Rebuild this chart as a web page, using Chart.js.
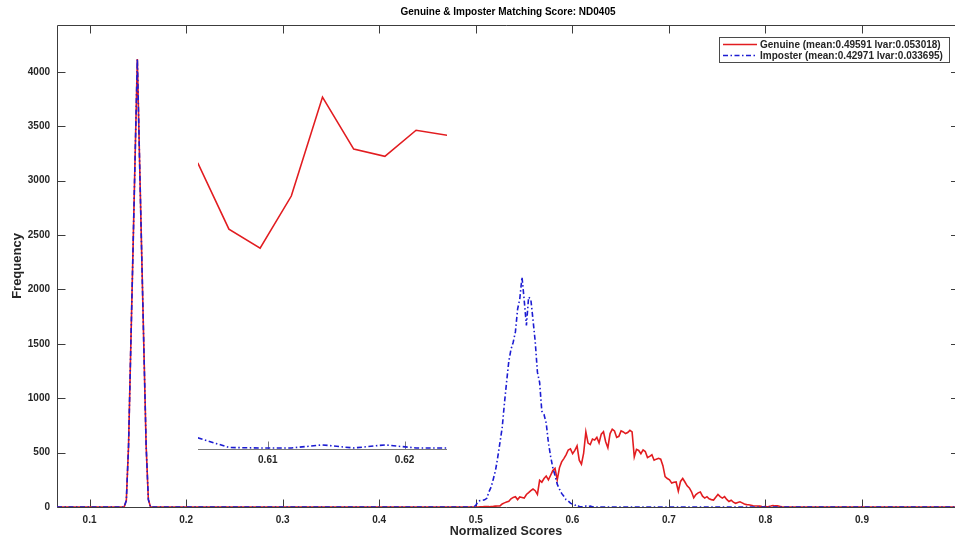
<!DOCTYPE html>
<html>
<head>
<meta charset="utf-8">
<script src="https://cdn.jsdelivr.net/npm/chart.js@4.4.1/dist/chart.umd.min.js"></script>
<style>
  html, body { margin: 0; padding: 0; background: #fff; }
  #wrap { position: relative; width: 955px; height: 542px; overflow: hidden; }
  #main { position: absolute; left: 0; top: 0; }
  #inset { position: absolute; left: 198px; top: 80px; }
</style>
</head>
<body>
<div id="wrap">
  <canvas id="main" width="955" height="542"></canvas>
  <canvas id="inset" width="251" height="395"></canvas>
</div>
<script>
// --- Data ---
const titleText = 'Genuine & Imposter Matching Score: ND0405';
const genuineLabel = 'Genuine (mean:0.49591 lvar:0.053018)';
const imposterLabel = 'Imposter (mean:0.42971 lvar:0.033695)';

const xMin = 0.0663;
const xMax = 0.9963;
const yMax = 4432;
const xTicks = [0.1, 0.2, 0.3, 0.4, 0.5, 0.6, 0.7, 0.8, 0.9];
const yTicks = [0, 500, 1000, 1500, 2000, 2500, 3000, 3500, 4000];

// zoomed inset
const insetMin = 0.6049;
const insetMax = 0.6231;
const insetYMax = 700;
const insetTicks = [0.61, 0.62];

const binWidth = 0.00228;

// narrow peak around 0.15 (both curves)
const spikeStart = 0.13582;
const genuineSpike = [0, 60, 560, 1450, 2330, 3230, 4120, 3200, 2310, 1430, 560, 70, 0];
const imposterSpike = [0, 60, 560, 1450, 2330, 3230, 4120, 3200, 2310, 1430, 560, 70, 0];

// main histograms, bins from histStart
const histStart = 0.49772;
const genuineCounts = [
    0,
    0, 0, 2, 2, 3, 3, 3, 5, 6, 8,
    9, 10, 28, 38, 45, 52, 75, 88, 95, 68,
    92, 88, 82, 115, 132, 150, 165, 150, 115, 245,
    228, 262, 285, 250, 292, 335, 355, 250, 360, 415,
    445, 480, 524, 535, 490, 520, 561, 431, 394, 496,
    690, 588, 574, 625, 615, 640, 590, 670, 692, 600,
    545, 675, 715, 700, 640, 650, 700, 690, 675, 685,
    705, 690, 460, 530, 520, 490, 525, 510, 455, 465,
    480, 430, 440, 448, 440, 380, 280, 262, 250, 220,
    228, 230, 145, 235, 262, 230, 195, 175, 140, 85,
    115, 130, 138, 100, 82, 95, 75, 68, 64, 90,
    115, 95, 82, 95, 70, 50, 62, 45, 34, 42,
    48, 38, 28, 22, 20, 16, 12, 9, 9, 8,
    5, 3, 3, 5, 9, 14, 10, 12, 6, 2, 0
];
const imposterCounts = [
    0,
    15, 50, 60, 62, 66, 80, 140, 185, 260, 340,
    460, 595, 730, 950, 1150, 1340, 1450, 1515, 1610, 1820,
    1915, 2115, 1900, 1670, 1930, 1910, 1720, 1520, 1240, 1145,
    880, 850, 770, 590, 465, 360, 290, 210, 165, 125,
    100, 68, 55, 35, 25, 16, 22, 3, 2, 2,
    8, 2, 8, 2, 2, 0
];

// --- Styles ---
const red = 'rgb(226, 28, 32)';
const blue = 'rgb(28, 28, 210)';
const blueDash = [5, 2.5, 1.5, 2.5];
const fontFamily = "'Liberation Sans', Arial, sans-serif";
const textColor = '#262626';
const axisColor = '#3c3c3c';

function toPoints(start, counts) {
    return counts.map((c, i) => ({ x: start + i * binWidth, y: c }));
}

const genuinePts = [{ x: xMin, y: 0 }, ...toPoints(spikeStart, genuineSpike), ...toPoints(histStart, genuineCounts), { x: xMax, y: 0 }];
const imposterPts = [{ x: xMin, y: 0 }, ...toPoints(spikeStart, imposterSpike), ...toPoints(histStart, imposterCounts), { x: xMax, y: 0 }];

function makeDatasets() {
    return [
        { label: genuineLabel, data: genuinePts.slice(), borderColor: red, borderWidth: 1.6, order: 2 },
        { label: imposterLabel, data: imposterPts.slice(), borderColor: blue, borderWidth: 1.6, borderDash: blueDash, order: 1 }
    ];
}

// box with inward ticks on all sides, title + legend
const boxPlugin = {
    id: 'matlabBox',
    beforeDatasetsDraw(chart) {
        const { ctx, chartArea: a, scales: { x, y } } = chart;
        const top = Math.round(a.top) + 0.5;
        const bottom = Math.round(a.bottom) + 0.5;
        const left = Math.round(a.left) + 0.5;
        const right = a.right + 4;
        ctx.save();
        ctx.strokeStyle = axisColor;
        ctx.lineWidth = 1;
        ctx.beginPath();
        ctx.moveTo(right, top); ctx.lineTo(left, top); ctx.lineTo(left, bottom); ctx.lineTo(right, bottom);
        xTicks.forEach(v => {
            const px = Math.round(x.getPixelForValue(v)) + 0.5;
            ctx.moveTo(px, bottom); ctx.lineTo(px, bottom - 8);
            ctx.moveTo(px, top); ctx.lineTo(px, top + 8);
        });
        yTicks.forEach(v => {
            const py = Math.round(y.getPixelForValue(v)) + 0.5;
            ctx.moveTo(left, py); ctx.lineTo(left + 8, py);
            ctx.moveTo(right, py); ctx.lineTo(right - 8, py);
        });
        ctx.stroke();
        ctx.restore();
    },
    afterDraw(chart) {
        const { ctx, chartArea: a } = chart;
        ctx.save();
        // title, centred over the full axes box (right edge lies past the canvas)
        ctx.fillStyle = '#000';
        ctx.font = 'bold 10px ' + fontFamily;
        ctx.textAlign = 'center';
        ctx.textBaseline = 'middle';
        ctx.fillText(titleText, (a.left + a.right + 4) / 2, 12);

        const items = [
            { label: genuineLabel, color: red, dash: [] },
            { label: imposterLabel, color: blue, dash: blueDash }
        ];
        ctx.textAlign = 'left';
        ctx.fillStyle = '#fff';
        ctx.strokeStyle = '#4a4a4a';
        ctx.lineWidth = 1;
        ctx.fillRect(719.5, 37.5, 230, 25);
        ctx.strokeRect(719.5, 37.5, 230, 25);
        ctx.font = 'bold 10px ' + fontFamily;
        items.forEach((it, i) => {
            const cy = 44.5 + i * 11;
            ctx.strokeStyle = it.color;
            ctx.lineWidth = 1.6;
            ctx.setLineDash(it.dash);
            ctx.beginPath();
            ctx.moveTo(723, cy); ctx.lineTo(757, cy);
            ctx.stroke();
            ctx.setLineDash([]);
            ctx.fillStyle = textColor;
            ctx.fillText(it.label, 760, cy + 0.5);
        });
        ctx.restore();
    }
};

new Chart(document.getElementById('main'), {
    type: 'line',
    data: { datasets: makeDatasets() },
    options: {
        responsive: false,
        animation: false,
        elements: { point: { radius: 0 }, line: { tension: 0 } },
        layout: { padding: { left: 0, right: 0, top: 25, bottom: 0 } },
        plugins: {
            legend: { display: false },
            tooltip: { enabled: false },
            title: { display: false }
        },
        scales: {
            x: {
                type: 'linear',
                min: xMin,
                max: xMax,
                grid: { display: false, drawTicks: false },
                border: { display: false },
                afterBuildTicks: s => { s.ticks = xTicks.map(v => ({ value: v })); },
                afterFit: s => { s.height = 35; },
                ticks: {
                    padding: 7,
                    color: textColor,
                    font: { family: fontFamily, size: 10, weight: 'bold' },
                    callback: v => String(v)
                },
                title: {
                    display: true,
                    text: 'Normalized Scores',
                    color: textColor,
                    font: { family: fontFamily, size: 12.5, weight: 'bold' },
                    padding: { top: 0, bottom: 3 }
                }
            },
            y: {
                type: 'linear',
                min: 0,
                max: yMax,
                grid: { display: false, drawTicks: false },
                border: { display: false },
                afterBuildTicks: s => { s.ticks = yTicks.map(v => ({ value: v })); },
                afterFit: s => { s.width = 57; },
                ticks: {
                    padding: 7,
                    color: textColor,
                    font: { family: fontFamily, size: 10, weight: 'bold' },
                    callback: v => String(v)
                },
                title: {
                    display: true,
                    text: 'Frequency',
                    color: textColor,
                    font: { family: fontFamily, size: 13, weight: 'bold' },
                    padding: { top: 10, bottom: 0 }
                }
            }
        }
    },
    plugins: [boxPlugin]
});

// inset axis line with upward ticks
const insetAxisPlugin = {
    id: 'insetAxis',
    beforeDatasetsDraw(chart) {
        const { ctx, chartArea: a, scales: { x } } = chart;
        const bottom = Math.round(a.bottom) + 0.5;
        ctx.save();
        ctx.strokeStyle = '#7a7a7a';
        ctx.lineWidth = 1;
        ctx.beginPath();
        ctx.moveTo(a.left, bottom); ctx.lineTo(a.right, bottom);
        insetTicks.forEach(v => {
            const px = Math.round(x.getPixelForValue(v)) + 0.5;
            ctx.moveTo(px, bottom); ctx.lineTo(px, bottom - 8);
        });
        ctx.stroke();
        ctx.restore();
    }
};

new Chart(document.getElementById('inset'), {
    type: 'line',
    data: { datasets: makeDatasets() },
    options: {
        responsive: false,
        animation: false,
        elements: { point: { radius: 0 }, line: { tension: 0 } },
        layout: { padding: { left: 0, right: 2, top: 12, bottom: 0 } },
        plugins: { legend: { display: false }, tooltip: { enabled: false } },
        scales: {
            x: {
                type: 'linear',
                min: insetMin,
                max: insetMax,
                grid: { display: false, drawTicks: false },
                border: { display: false },
                afterBuildTicks: s => { s.ticks = insetTicks.map(v => ({ value: v })); },
                afterFit: s => { s.height = 26; },
                ticks: {
                    padding: 5,
                    color: textColor,
                    font: { family: fontFamily, size: 10, weight: 'bold' },
                    callback: v => String(v)
                }
            },
            y: { type: 'linear', min: 0, max: insetYMax, display: false }
        }
    },
    plugins: [insetAxisPlugin]
});
</script>
</body>
</html>
